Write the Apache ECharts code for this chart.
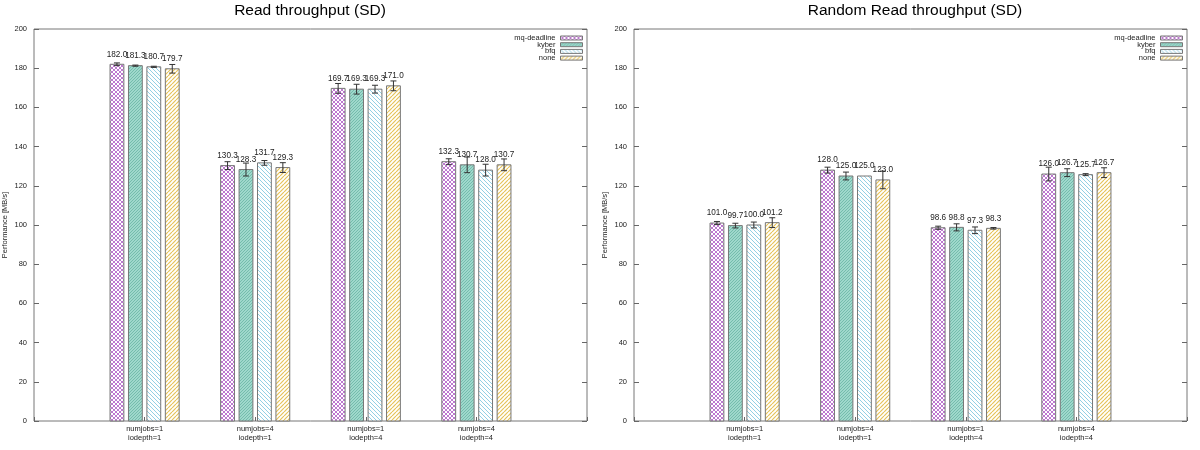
<!DOCTYPE html>
<html>
<head>
<meta charset="utf-8">
<script src="https://cdn.jsdelivr.net/npm/echarts@6/dist/echarts.min.js"></script>
<style>html,body{margin:0;padding:0;background:#fff}#c{width:1200px;height:450px}</style>
</head>
<body>
<div id="c"></div>
<script>
// ---- data ----
const categories = ['numjobs=1\niodepth=1', 'numjobs=4\niodepth=1', 'numjobs=1\niodepth=4', 'numjobs=4\niodepth=4'];
const schedulers = ['mq-deadline', 'kyber', 'bfq', 'none'];
const yTicks = [0, 20, 40, 60, 80, 100, 120, 140, 160, 180, 200];

// Read throughput (SD)
const readMqDeadline = [182.0, 130.3, 169.7, 132.3];
const readKyber      = [181.3, 128.3, 169.3, 130.7];
const readBfq        = [180.7, 131.7, 169.3, 128.0];
const readNone       = [179.7, 129.3, 171.0, 130.7];
const readMqDeadlineErr = [0.7, 2.0, 2.5, 1.5];
const readKyberErr      = [0.3, 3.3, 2.5, 4.0];
const readBfqErr        = [0.3, 1.2, 2.0, 3.0];
const readNoneErr       = [2.2, 2.5, 2.5, 3.0];

// Random Read throughput (SD)
const randMqDeadline = [101.0, 128.0, 98.6, 126.0];
const randKyber      = [99.7, 125.0, 98.8, 126.7];
const randBfq        = [100.0, 125.0, 97.3, 125.7];
const randNone       = [101.2, 123.0, 98.3, 126.7];
const randMqDeadlineErr = [0.8, 1.5, 0.8, 3.5];
const randKyberErr      = [1.2, 2.0, 1.8, 2.0];
const randBfqErr        = [1.5, 0.0, 1.7, 0.5];
const randNoneErr       = [2.5, 4.5, 0.4, 2.5];

// ---- styles ----
const FONT = 'Liberation Sans, Arial, sans-serif';
function makePattern(bg, color, dirs, s, lw) {
  const c = document.createElement('canvas');
  c.width = s; c.height = s;
  const g = c.getContext('2d');
  g.fillStyle = bg; g.fillRect(0, 0, s, s);
  g.strokeStyle = color; g.lineWidth = lw;
  dirs.forEach(function (d) {
    for (let k = -1; k <= 1; k++) {
      g.beginPath();
      if (d === '/') { g.moveTo(k * s, s); g.lineTo(k * s + s, 0); }
      else { g.moveTo(k * s, 0); g.lineTo(k * s + s, s); }
      g.stroke();
    }
  });
  return { image: c, repeat: 'repeat' };
}
const patterns = [
  makePattern('#ffffff', '#bd78d0', ['/', '\\'], 4, 1),
  makePattern('#9fd8cc', '#74bcac', ['/'], 3, 1),
  makePattern('#ffffff', '#93d0e4', ['\\'], 4, 1),
  makePattern('#ffffff', '#e6c35a', ['/'], 4, 1.2)
];
const offsets = [-1.5, -0.5, 0.5, 1.5].map(function (o) { return o / 6; });
const barW = 0.125;

function renderBar(schedIdx) {
  return function (params, api) {
    const x = api.value(0) + offsets[schedIdx];
    const v = api.value(1), e = api.value(2);
    const top = api.coord([x, v]);
    const base = api.coord([x, 0]);
    const w = api.size([barW, 0])[0];
    const children = [{
      type: 'rect',
      shape: { x: top[0] - w / 2, y: top[1], width: w, height: base[1] - top[1] },
      style: { fill: patterns[schedIdx], stroke: '#777', lineWidth: 1 }
    }];
    if (e > 0) {
      const hi = api.coord([x, v + e]), lo = api.coord([x, v - e]);
      children.push({ type: 'line', shape: { x1: hi[0], y1: hi[1], x2: lo[0], y2: lo[1] }, style: { stroke: '#333', lineWidth: 1 } });
      children.push({ type: 'line', shape: { x1: hi[0] - 3, y1: hi[1], x2: hi[0] + 3, y2: hi[1] }, style: { stroke: '#333', lineWidth: 1 } });
      children.push({ type: 'line', shape: { x1: lo[0] - 3, y1: lo[1], x2: lo[0] + 3, y2: lo[1] }, style: { stroke: '#333', lineWidth: 1 } });
    }
    children.push({
      type: 'text',
      style: { text: v.toFixed(1), x: top[0], y: top[1] - 10, align: 'center', verticalAlign: 'middle', fontSize: 8.2, fill: '#222', fontFamily: FONT }
    });
    return { type: 'group', children: children };
  };
}

function buildSeries(valuesList, errList, axisIdx) {
  return schedulers.map(function (name, si) {
    return {
      type: 'custom',
      name: name,
      xAxisIndex: axisIdx,
      yAxisIndex: axisIdx * 2,
      itemStyle: { color: patterns[si], borderColor: '#777', borderWidth: 1 },
      renderItem: renderBar(si),
      encode: { x: 0, y: 1 },
      data: valuesList[si].map(function (v, i) { return [i, v, errList[si][i]]; })
    };
  });
}

function xAxis(gi) {
  return {
    type: 'value', gridIndex: gi, min: -1, max: 4, interval: 1,
    axisLine: { show: false, onZero: false },
    splitLine: { show: false },
    axisTick: { show: true, inside: true, length: 4, lineStyle: { color: '#666' } },
    axisLabel: {
      fontSize: 7.5, lineHeight: 8.5, color: '#222', fontFamily: FONT, margin: 4,
      formatter: function (v) { return categories[v] !== undefined ? categories[v] : ''; }
    }
  };
}
function yAxis(gi, pos, labels) {
  return {
    type: 'value', gridIndex: gi, position: pos, min: yTicks[0], max: yTicks[yTicks.length - 1], interval: 20,
    name: labels ? 'Performance [MB/s]' : '', nameLocation: 'middle', nameGap: 25,
    nameTextStyle: { fontSize: 7.5, color: '#222', fontFamily: FONT },
    axisLine: { show: false, onZero: false },
    splitLine: { show: false },
    axisTick: { show: true, inside: true, length: 5, lineStyle: { color: '#666' } },
    axisLabel: { show: labels, fontSize: 7.5, color: '#222', fontFamily: FONT, margin: 7 }
  };
}
function legend(right) {
  return {
    orient: 'vertical', right: right, top: 34, align: 'right', icon: 'rect', padding: 0,
    itemWidth: 22, itemHeight: 4, itemGap: -1.3,
    textStyle: { fontSize: 7.5, lineHeight: 6.8, color: '#222', fontFamily: FONT },
    data: schedulers.map(function (n, i) {
      return { name: n, itemStyle: { color: patterns[i], borderColor: '#777', borderWidth: 1 } };
    }),
    selectedMode: false
  };
}

const chart = echarts.init(document.getElementById('c'), null, { renderer: 'canvas' });
chart.setOption({
  animation: false,
  backgroundColor: '#fff',
  title: [
    { text: 'Read throughput (SD)', left: 305, top: -2, textAlign: 'center', textStyle: { fontSize: 15.5, fontWeight: 'normal', color: '#000', fontFamily: FONT } },
    { text: 'Random Read throughput (SD)', left: 910, top: -2, textAlign: 'center', textStyle: { fontSize: 15.5, fontWeight: 'normal', color: '#000', fontFamily: FONT } }
  ],
  legend: [legend(617), legend(17)],
  grid: [
    { left: 34, top: 29, width: 553, height: 392, show: true, borderColor: '#777', borderWidth: 1, backgroundColor: 'transparent' },
    { left: 634, top: 29, width: 553, height: 392, show: true, borderColor: '#777', borderWidth: 1, backgroundColor: 'transparent' }
  ],
  xAxis: [xAxis(0), xAxis(1)],
  yAxis: [yAxis(0, 'left', true), yAxis(0, 'right', false), yAxis(1, 'left', true), yAxis(1, 'right', false)],
  series: buildSeries([readMqDeadline, readKyber, readBfq, readNone], [readMqDeadlineErr, readKyberErr, readBfqErr, readNoneErr], 0)
    .concat(buildSeries([randMqDeadline, randKyber, randBfq, randNone], [randMqDeadlineErr, randKyberErr, randBfqErr, randNoneErr], 1))
});
</script>
</body>
</html>
